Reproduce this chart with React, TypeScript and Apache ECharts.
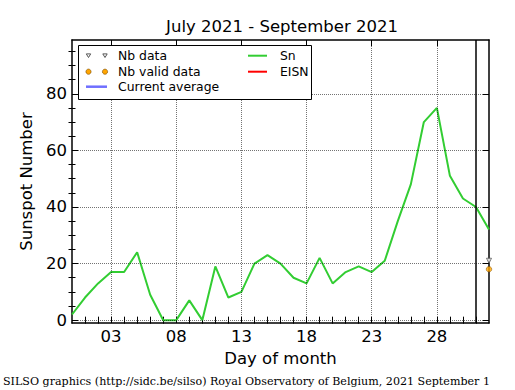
import React, { useEffect, useRef } from "react";
import * as echarts from "echarts";

// Day positions on the axis (tick "03" = 3)
const days = [0, 1, 2, 3, 4, 5, 6, 7, 8, 9, 10, 11, 12, 13, 14, 15, 16, 17, 18, 19, 20, 21, 22, 23, 24, 25, 26, 27, 28, 29, 30, 31, 32];
const snValues = [2, 8, 13, 17, 17, 24, 9, 0, 0, 7, 0, 19, 8, 10, 20, 23, 20, 15, 13, 22, 13, 17, 19, 17, 21, 35, 48, 70, 75, 51, 43, 40, 32];
const nbDataDays = [32];
const nbDataValues = [21];
const nbValidDays = [32];
const nbValidValues = [18];
const currentAverageValues: number[][] = [];
const eisnValues: number[][] = [];
const xTickDays = [3, 8, 13, 18, 23, 28];
const xMinorDays = [1, 2, 4, 5, 6, 7, 9, 10, 11, 12, 14, 15, 16, 17, 19, 20, 21, 22, 24, 25, 26, 27, 29, 30, 31];
const yTicks = [0, 20, 40, 60, 80];
const yMinorTicks = [5, 10, 15, 25, 30, 35, 45, 50, 55, 65, 70, 75, 85, 90, 95];
const monthBoundaryDay = 31;

const FONT = "DejaVu Sans";
const BLACK = "#000";

export default function App() {
  const ref = useRef<HTMLDivElement>(null);

  useEffect(() => {
    if (!ref.current) return;
    const chart = echarts.init(ref.current, undefined, { renderer: "svg" });

    const axisLineStyle = { color: BLACK, width: 1.5 };
    const baseX = (position: string) => ({
      type: "value",
      min: 0,
      max: 32,
      position,
      gridIndex: 0,
      axisLine: { show: false, lineStyle: axisLineStyle },
      axisTick: { show: false },
      axisLabel: { show: false },
      splitLine: { show: false },
    });
    const baseY = (position: string) => ({
      type: "value",
      min: -1,
      max: 99,
      position,
      gridIndex: 0,
      axisLine: { show: false, lineStyle: axisLineStyle },
      axisTick: { show: false },
      axisLabel: { show: false },
      splitLine: { show: false },
    });
    const majorTick = (vals: number[]) => ({
      show: true,
      inside: true,
      length: 6,
      customValues: vals,
      lineStyle: { color: BLACK, width: 1 },
    });
    const minorTick = (vals: number[]) => ({
      show: true,
      inside: true,
      length: 3.5,
      customValues: vals,
      lineStyle: { color: BLACK, width: 1 },
    });

    const xAxis = [
      {
        ...baseX("bottom"),
        axisLine: { show: true, onZero: false, lineStyle: axisLineStyle },
        axisTick: majorTick(xTickDays),
        axisLabel: {
          show: true,
          customValues: xTickDays,
          formatter: (v: number) => String(v).padStart(2, "0"),
          color: BLACK,
          fontSize: 16.5,
          fontFamily: FONT,
          margin: 5,
        },
        name: "Day of month",
        nameLocation: "middle",
        nameGap: 26,
        nameTextStyle: { color: BLACK, fontSize: 16.5, fontFamily: FONT },
      },
      { ...baseX("bottom"), axisTick: minorTick(xMinorDays) },
      {
        ...baseX("top"),
        axisLine: { show: true, onZero: false, lineStyle: axisLineStyle },
        axisTick: majorTick(xTickDays),
      },
      { ...baseX("top"), axisTick: minorTick(xMinorDays) },
    ];

    const yAxis = [
      {
        ...baseY("left"),
        axisLine: { show: true, onZero: false, lineStyle: axisLineStyle },
        axisTick: majorTick(yTicks),
        axisLabel: {
          show: true,
          customValues: yTicks,
          color: BLACK,
          fontSize: 16.5,
          fontFamily: FONT,
          margin: 5,
        },
        name: "Sunspot Number",
        nameLocation: "middle",
        nameGap: 30,
        nameTextStyle: { color: BLACK, fontSize: 16.5, fontFamily: FONT },
      },
      { ...baseY("left"), axisTick: minorTick(yMinorTicks) },
      {
        ...baseY("right"),
        axisLine: { show: true, onZero: false, lineStyle: axisLineStyle },
        axisTick: majorTick(yTicks),
      },
      { ...baseY("right"), axisTick: minorTick(yMinorTicks) },
    ];

    const legendRows = [55.7, 71.7, 86.7];
    const markerXs = [88.5, 105];

    const graphic: any[] = [
      {
        type: "rect",
        z: 100,
        shape: { x: 78.5, y: 45.5, width: 233, height: 54 },
        style: { fill: "#fff", stroke: BLACK, lineWidth: 1 },
      },
      ...markerXs.map((mx) => ({
        type: "polygon",
        z: 101,
        shape: {
          points: [
            [mx - 2.2, legendRows[0] - 1.8],
            [mx + 2.2, legendRows[0] - 1.8],
            [mx, legendRows[0] + 1.8],
          ],
        },
        style: { fill: "#fff", stroke: "#555", lineWidth: 1 },
      })),
      ...markerXs.map((mx) => ({
        type: "circle",
        z: 101,
        shape: { cx: mx, cy: legendRows[1], r: 2.6 },
        style: { fill: "#ffa500", stroke: "#7a4a00", lineWidth: 0.6 },
      })),
      {
        type: "line",
        z: 101,
        shape: { x1: 86, y1: legendRows[2], x2: 107, y2: legendRows[2] },
        style: { stroke: "#6f6fff", lineWidth: 2.5 },
      },
      {
        type: "line",
        z: 101,
        shape: { x1: 248, y1: legendRows[0], x2: 267, y2: legendRows[0] },
        style: { stroke: "#32cd32", lineWidth: 2 },
      },
      {
        type: "line",
        z: 101,
        shape: { x1: 248, y1: legendRows[1], x2: 267, y2: legendRows[1] },
        style: { stroke: "#ff0000", lineWidth: 2 },
      },
      ...[
        ["Nb data", 118, legendRows[0]],
        ["Nb valid data", 118, legendRows[1]],
        ["Current average", 118, legendRows[2]],
        ["Sn", 280, legendRows[0]],
        ["EISN", 280, legendRows[1]],
      ].map(([t, x, y]) => ({
        type: "text",
        z: 101,
        x: x as number,
        y: y as number,
        style: {
          text: t as string,
          fill: BLACK,
          font: `12.4px "${FONT}"`,
          textAlign: "left",
          textVerticalAlign: "middle",
        },
      })),
      {
        type: "text",
        z: 101,
        x: 3,
        y: 381,
        style: {
          text: "SILSO graphics (http://sidc.be/silso) Royal Observatory of Belgium, 2021 September 1",
          fill: BLACK,
          font: `11.1px "DejaVu Serif"`,
          textAlign: "left",
          textVerticalAlign: "middle",
        },
      },
    ];

    const dotted = { color: BLACK, width: 1, type: "dotted", opacity: 0.55 };
    const markData = [
      ...xTickDays.map((d) => ({ xAxis: d, lineStyle: dotted })),
      ...yTicks.map((v) => ({ yAxis: v, lineStyle: dotted })),
      { xAxis: monthBoundaryDay, lineStyle: { color: BLACK, width: 1.5, type: "solid", opacity: 1 } },
    ];

    chart.setOption({
      animation: false,
      backgroundColor: "#fff",
      title: {
        text: "July 2021 - September 2021",
        left: 282,
        top: 18,
        padding: 0,
        textAlign: "center",
        textStyle: { color: BLACK, fontSize: 16.5, fontWeight: "normal", fontFamily: FONT },
      },
      grid: { left: 72, right: 26, top: 40, bottom: 67, containLabel: false },
      xAxis,
      yAxis,
      graphic,
      series: [
        {
          name: "Sn",
          type: "line",
          xAxisIndex: 0,
          yAxisIndex: 0,
          data: days.map((d, i) => [d, snValues[i]]),
          showSymbol: false,
          lineStyle: { color: "#32cd32", width: 2 },
          itemStyle: { color: "#32cd32" },
          z: 3,
          markLine: {
            silent: true,
            symbol: ["none", "none"],
            label: { show: false },
            data: markData,
          },
        },
        {
          name: "EISN",
          type: "line",
          xAxisIndex: 0,
          yAxisIndex: 0,
          data: eisnValues,
          showSymbol: false,
          lineStyle: { color: "#ff0000", width: 2 },
        },
        {
          name: "Current average",
          type: "line",
          xAxisIndex: 0,
          yAxisIndex: 0,
          data: currentAverageValues,
          showSymbol: false,
          lineStyle: { color: "#6f6fff", width: 2.5 },
        },
        {
          name: "Nb data",
          type: "scatter",
          xAxisIndex: 0,
          yAxisIndex: 0,
          data: nbDataDays.map((d, i) => [d, nbDataValues[i]]),
          symbol: "triangle",
          symbolRotate: 180,
          symbolSize: 5,
          itemStyle: { color: "#fff", borderColor: "#555", borderWidth: 1 },
          z: 4,
        },
        {
          name: "Nb valid data",
          type: "scatter",
          xAxisIndex: 0,
          yAxisIndex: 0,
          data: nbValidDays.map((d, i) => [d, nbValidValues[i]]),
          symbol: "circle",
          symbolSize: 5.5,
          itemStyle: { color: "#ffa500", borderColor: "#7a4a00", borderWidth: 0.6 },
          z: 4,
        },
      ],
    });

    return () => chart.dispose();
  }, []);

  return (
    <div
      ref={ref}
      style={{ position: "absolute", left: 0, top: 0, width: 515, height: 390 }}
    />
  );
}
